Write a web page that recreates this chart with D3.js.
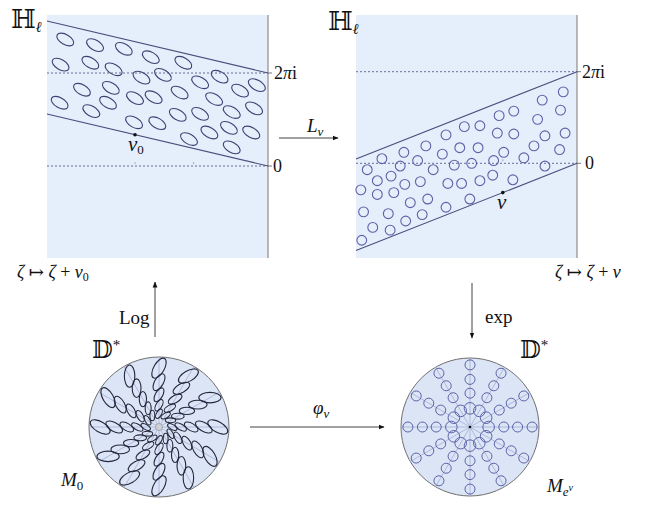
<!DOCTYPE html>
<html>
<head>
<meta charset="utf-8">
<script src="https://cdn.jsdelivr.net/npm/d3@7"></script>
<style>
  body { margin: 0; background: #fff; }
  text { font-family: "Liberation Serif", "DejaVu Serif", serif; fill: #111; }
</style>
</head>
<body>
<svg id="fig" width="650" height="505"></svg>
<script>
// ---- data (zeta = Re + i Im, Im in units of 2pi) ----
// ellipse centres in the left strip
const leftEllRe = [-2.18, -1.86, -1.55, -1.26, -0.91, -2.23, -1.91, -1.66, -1.36, -1.13, -0.73, -0.52, -0.12,
                   -2.00, -1.69, -1.43, -1.23, -0.95, -0.58, -0.30, -2.24, -1.90, -1.72, -1.44, -1.19, -0.97,
                   -0.73, -0.39, -0.15, -0.85, -0.63, -0.42, -0.18, -0.39];
const leftEllIm = [1.36, 1.30, 1.26, 1.17, 1.11, 1.09, 1.11, 1.04, 0.95, 0.98, 0.90, 0.96, 0.87,
                   0.82, 0.84, 0.73, 0.74, 0.79, 0.72, 0.81, 0.68, 0.59, 0.68, 0.47, 0.46, 0.55,
                   0.56, 0.58, 0.62, 0.29, 0.36, 0.41, 0.36, 0.20];
// circle centres in the right strip
const rightCircRe = [-0.15, -0.38, -0.18, -0.69, -0.85, -0.43, -1.06, -1.23, -1.43, -0.87, -0.69, -0.35, -0.13,
                     -1.65, -0.47, -1.08, -1.28, -0.80, -0.19, -1.89, -1.47, -2.13, -0.58, -0.91, -1.15, -1.74,
                     -0.35, -1.93, -1.34, -1.57, -2.29, -2.03, -0.92, -0.70, -1.06, -2.18, -1.88, -1.71, -1.41,
                     -1.26, -2.36, -2.18, -2.00, -1.17, -1.63, -1.82, -1.43, -2.33, -2.06, -1.69, -1.87, -2.23,
                     -2.04, -2.35];
const rightCircIm = [0.78, 0.69, 0.58, 0.57, 0.52, 0.48, 0.41, 0.40, 0.31, 0.33, 0.32, 0.30, 0.33,
                     0.19, 0.19, 0.17, 0.17, 0.12, 0.15, 0.12, 0.10, 0.05, 0.06, 0.03, 0.00, 0.03,
                     -0.03, -0.03, -0.02, -0.07, -0.07, -0.14, -0.13, -0.18, -0.19, -0.19, -0.23, -0.20, -0.22,
                     -0.22, -0.29, -0.34, -0.32, -0.39, -0.39, -0.43, -0.48, -0.53, -0.55, -0.56, -0.63, -0.70,
                     -0.73, -0.84];
// strip boundaries: lower edge Im = slope * Re, upper edge one period higher
const leftSlope = -0.235;
const rightSlope = 0.395;
const nu0 = { re: -1.43, im: 0.336 };
const nu = { re: -0.81, im: -0.32 };
const leftTicksRe = [-1.43, -0.80];
// discs: spoke directions (deg) and ring radii (fraction of disc radius)
const spokeAngles = [0, 30, 60, 90, 120, 150, 180, 210, 240, 270, 300, 330];
const leftRingR = [0.84, 0.64, 0.46, 0.31, 0.19];
const rightRingR = [0.27, 0.49, 0.69, 0.90];

const svg = d3.select('#fig');
const panelFill = '#e5eefb', discFill = '#dbe5f6';
const stripColor = '#4a4e7c';

svg.append('defs').append('marker')
  .attr('id', 'arr').attr('viewBox', '0 0 6 6')
  .attr('refX', 5.5).attr('refY', 3)
  .attr('markerWidth', 6).attr('markerHeight', 6)
  .attr('markerUnits', 'userSpaceOnUse')
  .attr('orient', 'auto')
  .append('path').attr('d', 'M0,0.6 L6,3 L0,5.4 Z').attr('fill', '#111');

// ---- one half-plane panel ----
function panel(g, slope, top, bottom, left, right, zeroY, twoPiY) {
  const xs = d3.scaleLinear().domain([-(right - left) / (zeroY - twoPiY), 0]).range([left, right]);
  const ys = d3.scaleLinear().domain([0, 1]).range([zeroY, twoPiY]);

  g.append('rect').attr('x', left).attr('y', top)
    .attr('width', right - left).attr('height', bottom - top).attr('fill', panelFill);
  g.append('line').attr('x1', right).attr('x2', right).attr('y1', top).attr('y2', bottom)
    .attr('stroke', '#8c8c8c').attr('stroke-width', 1.2);

  // dotted levels 0 and 2pi
  [0, 1].forEach(v => {
    g.append('line').attr('x1', left).attr('x2', right).attr('y1', ys(v)).attr('y2', ys(v))
      .attr('stroke', stripColor).attr('stroke-width', 0.8).attr('stroke-dasharray', '2,2');
    g.append('line').attr('x1', right).attr('x2', right + 4).attr('y1', ys(v)).attr('y2', ys(v))
      .attr('stroke', '#555').attr('stroke-width', 0.8);
  });

  // strip edges
  const d0 = xs.domain()[0];
  [0, 1].forEach(off => {
    g.append('line')
      .attr('x1', xs(d0)).attr('y1', ys(slope * d0 + off))
      .attr('x2', xs(0)).attr('y2', ys(off))
      .attr('stroke', stripColor).attr('stroke-width', 1.1);
  });
  return { xs, ys };
}

// left panel
const gl = svg.append('g');
const L = panel(gl, leftSlope, 15, 258, 47, 268, 166, 73);
leftTicksRe.forEach(r => {
  gl.append('line').attr('x1', L.xs(r)).attr('x2', L.xs(r)).attr('y1', L.ys(0) - 2).attr('y2', L.ys(0) - 4)
    .attr('stroke', '#999').attr('stroke-width', 0.8);
});
gl.selectAll('ellipse.strip')
  .data(d3.zip(leftEllRe, leftEllIm))
  .join('ellipse')
  .attr('class', 'strip')
  .attr('rx', 9.3).attr('ry', 5)
  .attr('transform', d => `translate(${L.xs(d[0])},${L.ys(d[1])}) rotate(30)`)
  .attr('fill', 'none').attr('stroke', '#3c4072').attr('stroke-width', 1.1);
gl.append('circle').attr('cx', L.xs(nu0.re)).attr('cy', L.ys(nu0.im)).attr('r', 1.8).attr('fill', '#111');

// right panel
const gr = svg.append('g');
const R = panel(gr, rightSlope, 15, 258, 356, 577, 163.3, 71.7);
gr.append('line').attr('x1', R.xs(nu.re)).attr('x2', R.xs(nu.re)).attr('y1', R.ys(0) - 2).attr('y2', R.ys(0) - 4)
  .attr('stroke', '#999').attr('stroke-width', 0.8);
gr.selectAll('circle.strip')
  .data(d3.zip(rightCircRe, rightCircIm))
  .join('circle')
  .attr('class', 'strip')
  .attr('cx', d => R.xs(d[0])).attr('cy', d => R.ys(d[1])).attr('r', 4.9)
  .attr('fill', 'none').attr('stroke', '#5d62a8').attr('stroke-width', 1.1);
gr.append('circle').attr('cx', R.xs(nu.re)).attr('cy', R.ys(nu.im)).attr('r', 1.8).attr('fill', '#111');

// ---- discs ----
function disc(cx, cy, rad) {
  const g = svg.append('g').attr('transform', `translate(${cx},${cy})`);
  const rs = d3.scaleLinear().domain([0, 1]).range([0, rad]);
  g.append('circle').attr('r', rad).attr('fill', discFill).attr('stroke', '#707070').attr('stroke-width', 1);
  spokeAngles.forEach(a => {
    const t = a * Math.PI / 180;
    g.append('line').attr('x1', 0).attr('y1', 0)
      .attr('x2', rs(1) * Math.cos(t)).attr('y2', -rs(1) * Math.sin(t))
      .attr('stroke', '#a7b2d8').attr('stroke-width', 0.9);
  });
  return { g, rs };
}

// M_0 : tilted ellipses
const D0 = disc(159, 427, 70);
const leftMarks = [];
spokeAngles.forEach(a => leftRingR.forEach(r => leftMarks.push({ a, r })));
const semiMajor = d => 3.5 + 0.13 * D0.rs(d.r);
D0.g.selectAll('ellipse')
  .data(leftMarks)
  .join('ellipse')
  .attr('rx', semiMajor)
  .attr('ry', d => 0.47 * semiMajor(d))
  .attr('transform', d => {
    const t = d.a * Math.PI / 180;
    return `translate(${D0.rs(d.r) * Math.cos(t)},${-D0.rs(d.r) * Math.sin(t)}) rotate(${30 - d.a})`;
  })
  .attr('fill', 'none').attr('stroke', '#25273c').attr('stroke-width', 1.1);
D0.g.append('circle').attr('r', 3.5).attr('fill', '#cfd2d8').attr('stroke', '#9a9a9a').attr('stroke-width', 0.8);

// M_{e^nu} : circles on spokes
const D1 = disc(470, 427, 69);
const rightMarks = [];
spokeAngles.forEach(a => rightRingR.forEach(r => rightMarks.push({ a, r })));
D1.g.selectAll('circle.mark')
  .data(rightMarks)
  .join('circle')
  .attr('class', 'mark')
  .attr('cx', d => D1.rs(d.r) * Math.cos(d.a * Math.PI / 180))
  .attr('cy', d => -D1.rs(d.r) * Math.sin(d.a * Math.PI / 180))
  .attr('r', d => d.r < 0.3 ? 5.8 : 5)
  .attr('fill', 'none').attr('stroke', '#5d62a8').attr('stroke-width', 1);
D1.g.append('circle').attr('r', 1.3).attr('fill', '#111');

// ---- arrows ----
function arrow(x1, y1, x2, y2) {
  svg.append('line').attr('x1', x1).attr('y1', y1).attr('x2', x2).attr('y2', y2)
    .attr('stroke', '#111').attr('stroke-width', 0.8).attr('marker-end', 'url(#arr)');
}
arrow(279, 138, 338, 138);
arrow(155, 337, 155, 282);
arrow(472, 283, 472, 338);
arrow(250, 427, 384, 427);

// ---- labels ----
function label(x, y, parts, size, anchor) {
  const t = svg.append('text').attr('x', x).attr('y', y).attr('font-size', size)
    .attr('text-anchor', anchor || 'start');
  parts.forEach(p => {
    const s = t.append('tspan').text(p.t);
    if (p.i) s.attr('font-style', 'italic');
    if (p.fs) s.attr('font-size', p.fs);
    if (p.dy) s.attr('dy', p.dy);
    if (p.f) s.style('font-family', p.f);
  });
  return t;
}
const bb = '"DejaVu Serif", "DejaVu Sans", serif';
label(11, 28, [{ t: 'ℍ', f: bb }, { t: 'ℓ', i: 1, fs: 15, dy: 4 }], 26);
label(328, 30, [{ t: 'ℍ', f: bb }, { t: 'ℓ', i: 1, fs: 15, dy: 4 }], 26);
label(274, 79, [{ t: '2' }, { t: 'π', i: 1 }, { t: 'i' }], 18);
label(273, 172, [{ t: '0' }], 18);
label(582, 78, [{ t: '2' }, { t: 'π', i: 1 }, { t: 'i' }], 18);
label(585, 169, [{ t: '0' }], 18);
label(128, 151, [{ t: 'ν', i: 1 }, { t: '0', fs: 13, dy: 3 }], 21);
label(497, 209, [{ t: 'ν', i: 1 }], 21);
label(307, 132, [{ t: 'L', i: 1 }, { t: 'ν', i: 1, fs: 13, dy: 4 }], 19);
label(17, 278, [{ t: 'ζ', i: 1 }, { t: ' ↦ ' }, { t: 'ζ', i: 1 }, { t: ' + ' }, { t: 'ν', i: 1 }, { t: '0', fs: 12, dy: 3 }], 18);
label(555, 278, [{ t: 'ζ', i: 1 }, { t: ' ↦ ' }, { t: 'ζ', i: 1 }, { t: ' + ' }, { t: 'ν', i: 1 }], 18);
label(119, 324, [{ t: 'Log' }], 19);
label(485, 323, [{ t: 'exp' }], 19);
label(92, 358, [{ t: '𝔻', f: bb }, { t: '*', fs: 15, dy: -8 }], 24);
label(520, 358, [{ t: '𝔻', f: bb }, { t: '*', fs: 15, dy: -8 }], 24);
label(313, 414, [{ t: 'φ', i: 1 }, { t: 'ν', i: 1, fs: 13, dy: 4 }], 19);
label(61, 486, [{ t: 'M', i: 1 }, { t: '0', fs: 13, dy: 4 }], 19);
label(547, 492, [{ t: 'M', i: 1 }, { t: 'e', i: 1, fs: 13, dy: 4 }, { t: 'ν', i: 1, fs: 10, dy: -5 }], 19);
</script>
</body>
</html>
